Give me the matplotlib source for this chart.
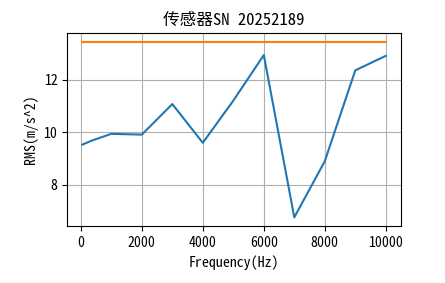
import matplotlib
matplotlib.use("Agg")
import matplotlib.pyplot as plt

plt.rcParams['font.family'] = ['Noto Sans Mono CJK SC', 'Noto Sans CJK SC', 'DejaVu Sans']
plt.rcParams['axes.unicode_minus'] = False

# 频率与RMS数据
freq = [50, 350, 1000, 2000, 3000, 4000, 5000, 6000, 7000, 8000, 9000, 10000]
rms = [9.53, 9.68, 9.94, 9.91, 11.07, 9.60, 11.20, 12.93, 6.77, 8.90, 12.35, 12.90]
limit_freq = [50, 10000]
limit_val = [13.43, 13.43]

fig, ax = plt.subplots(figsize=(4.45, 2.83), dpi=100)
fig.subplots_adjust(left=0.151, right=0.901, bottom=0.201, top=0.883)

ax.plot(freq, rms, color='#1f77b4')
ax.plot(limit_freq, limit_val, color='#ff7f0e')

ax.set_title('传感器SN 20252189')
ax.set_xlabel('Frequency(Hz)')
ax.set_ylabel('RMS(m/s^2)')
ax.grid(True)

fig.savefig('out.png', dpi=100)
